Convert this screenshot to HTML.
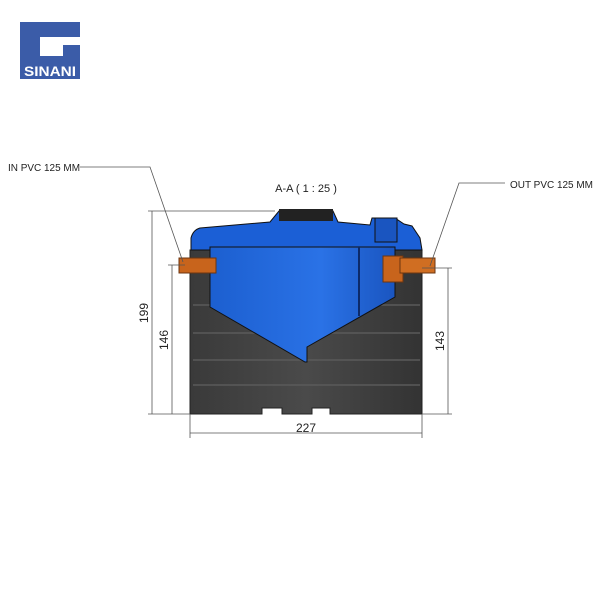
<!DOCTYPE html>
<html><head><style>
body{margin:0;background:#fff;width:600px;height:600px;overflow:hidden}
svg text{font-family:"Liberation Sans",sans-serif}
</style></head><body>
<svg width="600" height="600" viewBox="0 0 600 600">
<defs>
<linearGradient id="g" x1="0" x2="1"><stop offset="0" stop-color="#3a3a3a"/><stop offset="0.5" stop-color="#4a4a4a"/><stop offset="1" stop-color="#333"/></linearGradient>
<linearGradient id="b" x1="0" x2="1"><stop offset="0" stop-color="#1c5fd0"/><stop offset="0.6" stop-color="#2a72e6"/><stop offset="1" stop-color="#1a55c0"/></linearGradient>
</defs>
<rect x="20" y="22" width="60" height="57" fill="#3b5ca8"/>
<rect x="40" y="37" width="40" height="19" fill="#fff"/>
<rect x="63" y="45" width="17" height="11" fill="#3b5ca8"/>
<text x="50" y="76" font-size="14" font-weight="bold" fill="#fff" text-anchor="middle" textLength="52" lengthAdjust="spacingAndGlyphs">SINANI</text>
<path d="M190,250 L422,250 L422,414 L330,414 L330,408 L312,408 L312,414 L282,414 L282,408 L262,408 L262,414 L190,414Z" fill="url(#g)" stroke="#222"/>
<g stroke="#5a5a5a" stroke-width="1.5" fill="none">
<path d="M193,305 H420 M193,333 H420 M193,360 H420 M193,385 H420"/>
</g>
<path d="M191,250 L191,238 Q193,230 200,228 L270,222 L279,211 L333,211 L338,222 L370,225 L372,218 L395,218 L404,224 L412,226 L420,238 L422,250Z" fill="#1b5fd6" stroke="#111"/>
<rect x="279" y="209" width="54" height="12" fill="#222"/>
<rect x="375" y="218" width="22" height="24" fill="#1a55c0" stroke="#111"/>
<path d="M210,247 L395,247 L395,297 L307,347 L307,362 L305,362 L210,307Z" fill="url(#b)" stroke="#111"/>
<line x1="359" y1="247" x2="359" y2="316" stroke="#0c2a6a" stroke-width="2"/>
<rect x="179" y="258" width="37" height="15" fill="#c8641c" stroke="#6b3510"/>
<rect x="383" y="256" width="20" height="26" fill="#c8641c" stroke="#6b3510"/>
<rect x="400" y="258" width="35" height="15" fill="#d06e22" stroke="#6b3510"/>
<g stroke="#555" stroke-width="0.8" fill="none">
<line x1="148" y1="211" x2="275" y2="211"/>
<line x1="152" y1="211" x2="152" y2="414"/>
<line x1="168" y1="265" x2="185" y2="265"/>
<line x1="172" y1="265" x2="172" y2="414"/>
<line x1="148" y1="414" x2="190" y2="414"/>
<line x1="422" y1="268" x2="452" y2="268"/>
<line x1="422" y1="414" x2="452" y2="414"/>
<line x1="448" y1="268" x2="448" y2="414"/>
<line x1="190" y1="414" x2="190" y2="438"/>
<line x1="422" y1="414" x2="422" y2="438"/>
<line x1="190" y1="433" x2="422" y2="433"/>
<polyline points="80,167 150,167 183,262"/>
<polyline points="430,266 459,183 505,183"/>
</g>
<g font-size="10" fill="#222">
<text x="8" y="171" textLength="72" lengthAdjust="spacingAndGlyphs">IN PVC 125 MM</text>
<text x="510" y="188" textLength="83" lengthAdjust="spacingAndGlyphs">OUT PVC 125 MM</text>
<text x="306" y="192" text-anchor="middle" font-size="11">A-A ( 1 : 25 )</text>
<text x="306" y="432" text-anchor="middle" font-size="12">227</text>
<text transform="translate(148,313) rotate(-90)" text-anchor="middle" font-size="12">199</text>
<text transform="translate(168,340) rotate(-90)" text-anchor="middle" font-size="12">146</text>
<text transform="translate(444,341) rotate(-90)" text-anchor="middle" font-size="12">143</text>
</g>
</svg>
</body></html>
